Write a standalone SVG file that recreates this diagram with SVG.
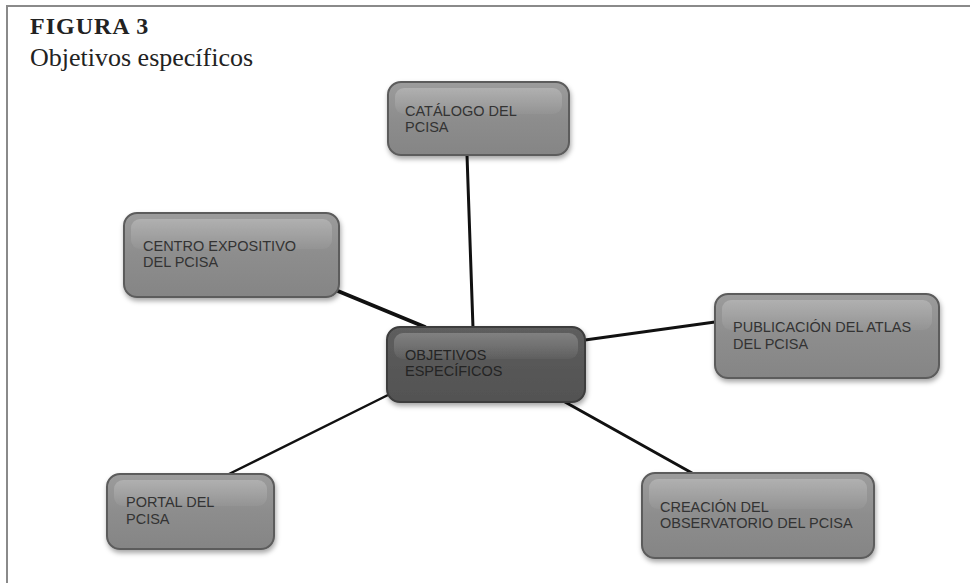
<svg xmlns="http://www.w3.org/2000/svg" width="970" height="583" viewBox="0 0 970 583">
<defs>
<linearGradient id="gOuter" x1="0" y1="0" x2="0" y2="1">
<stop offset="0" stop-color="#9c9c9c"/>
<stop offset="0.5" stop-color="#8d8d8d"/>
<stop offset="1" stop-color="#858585"/>
</linearGradient>
<linearGradient id="gInner" x1="0" y1="0" x2="0" y2="1">
<stop offset="0" stop-color="#5e5e5e"/>
<stop offset="1" stop-color="#525252"/>
</linearGradient>
<linearGradient id="gGloss" x1="0" y1="0" x2="0" y2="1">
<stop offset="0" stop-color="#ffffff" stop-opacity="0.22"/>
<stop offset="1" stop-color="#ffffff" stop-opacity="0.04"/>
</linearGradient>
<filter id="shadow" x="-10%" y="-10%" width="120%" height="130%">
<feDropShadow dx="1" dy="3" stdDeviation="2.5" flood-color="#000" flood-opacity="0.35"/>
</filter>
</defs>
<style>
.frame{stroke:#8a8a8a;stroke-width:2;fill:none}
.box{fill:url(#gOuter);stroke:#5c5c5c;stroke-width:2;filter:url(#shadow)}
.cbox{fill:url(#gInner);stroke:#3c3c3c;stroke-width:2;filter:url(#shadow)}
.gloss{fill:url(#gGloss);stroke:none}
.lbl{font-family:"Liberation Sans",Arial,sans-serif;font-size:14.5px;fill:#333}
.clbl{font-family:"Liberation Sans",Arial,sans-serif;font-size:14.5px;fill:#242424}
.conn line{stroke:#111;stroke-linecap:round}
.t1{font-family:"Liberation Serif","Times New Roman",serif;font-weight:bold;font-size:24px;fill:#222;letter-spacing:1px}
.t2{font-family:"Liberation Serif","Times New Roman",serif;font-size:26px;fill:#222}
</style>
<rect width="970" height="583" fill="#ffffff"/>
<path class="frame" d="M7,583 V6 H970"/>
<text class="t1" x="30" y="34">FIGURA 3</text>
<text class="t2" x="30" y="66">Objetivos específicos</text>

<g class="conn" id="connectors">
<line x1="467" y1="155" x2="473" y2="328" stroke-width="3"/>
<line x1="333" y1="289" x2="425" y2="327" stroke-width="4"/>
<line x1="715" y1="322" x2="585" y2="340" stroke-width="3"/>
<line x1="227" y1="475" x2="390" y2="394" stroke-width="2.5"/>
<line x1="692" y1="473" x2="565" y2="402" stroke-width="3"/>
</g>

<g id="n-catalogo">
<rect class="box" x="388" y="82" width="181" height="73" rx="13"/>
<rect class="gloss" x="395" y="88" width="167" height="26" rx="9"/>
<text class="lbl" x="405" y="116">CATÁLOGO DEL</text>
<text class="lbl" x="405" y="132">PCISA</text>
</g>

<g id="n-centro">
<rect class="box" x="124" y="213" width="215" height="84" rx="13"/>
<rect class="gloss" x="131" y="219" width="201" height="30" rx="9"/>
<text class="lbl" x="143" y="251">CENTRO EXPOSITIVO</text>
<text class="lbl" x="143" y="267">DEL PCISA</text>
</g>

<g id="n-objetivos">
<rect class="cbox" x="387" y="327" width="198" height="75" rx="13"/>
<rect class="gloss" x="394" y="333" width="184" height="26" rx="9"/>
<text class="clbl" x="405" y="360">OBJETIVOS</text>
<text class="clbl" x="405" y="376">ESPECÍFICOS</text>
</g>

<g id="n-publicacion">
<rect class="box" x="715" y="294" width="224" height="84" rx="13"/>
<rect class="gloss" x="722" y="300" width="210" height="30" rx="9"/>
<text class="lbl" x="733" y="332">PUBLICACIÓN DEL ATLAS</text>
<text class="lbl" x="733" y="349">DEL PCISA</text>
</g>

<g id="n-portal">
<rect class="box" x="107" y="474" width="167" height="75" rx="13"/>
<rect class="gloss" x="114" y="480" width="153" height="26" rx="9"/>
<text class="lbl" x="126" y="507">PORTAL DEL</text>
<text class="lbl" x="126" y="524">PCISA</text>
</g>

<g id="n-creacion">
<rect class="box" x="642" y="473" width="232" height="85" rx="13"/>
<rect class="gloss" x="649" y="479" width="218" height="30" rx="9"/>
<text class="lbl" x="660" y="512">CREACIÓN DEL</text>
<text class="lbl" x="660" y="528">OBSERVATORIO DEL PCISA</text>
</g>
</svg>
